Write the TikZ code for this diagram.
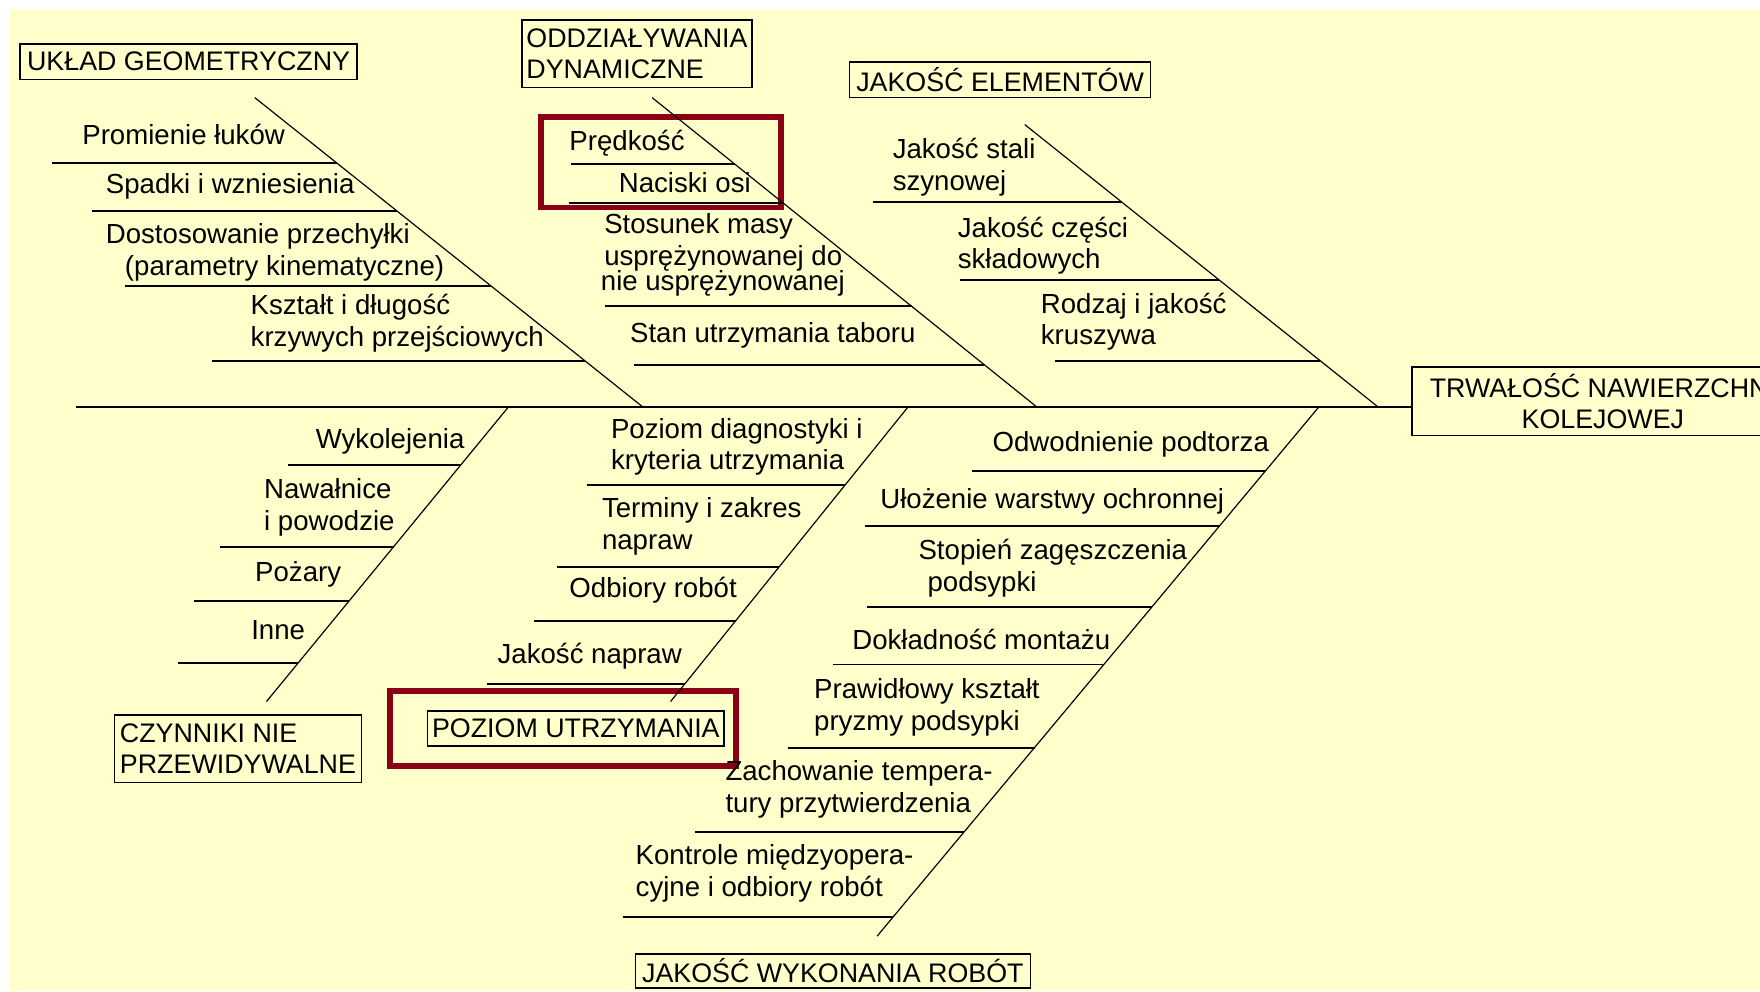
\documentclass[tikz,border=0pt]{standalone}
\usepackage{fontspec}
\setmainfont{Liberation Sans}
\definecolor{tlo}{HTML}{FFFFCC}
\definecolor{ciemnoczerwony}{RGB}{140,0,20}
\begin{document}
\begin{tikzpicture}[x=0.02cm,y=-0.02cm]
	% Style (DO ZMIANY)
	\tikzstyle{grzbiet}=[-,line width=1pt]
	\tikzstyle{os}=[-,line width=0.6pt]
	\tikzstyle{zebro}=[-,line width=1pt]
	\tikzstyle{kategoria}=[draw,line width=0.8pt,inner sep=0pt,align=left,font=\fontsize{13.6}{16}\selectfont]
	\tikzstyle{etykieta}=[anchor=west,inner sep=0pt,align=left,font=\fontsize{14}{16}\selectfont]
	\tikzstyle{ramka}=[draw=ciemnoczerwony,line width=2.8pt]
	% Wymiary (DO ZMIANY)
	\def\px{0.02cm}
	\def\Grzbiet{362.5}
	\def\XA{227}\def\YA{87}\def\NachA{1.2545}
	\def\XB{581}\def\YB{87}\def\NachB{1.2436}
	\def\XC{913}\def\YC{111}\def\NachC{1.251}
	\def\XD{453}\def\YD{362.5}\def\NachD{-0.8213}
	\def\XE{809}\def\YE{362.5}\def\NachE{-0.806}
	\def\XF{1175}\def\YF{362.5}\def\NachF{-0.8347}
	% Tlo
	\useasboundingbox (0,0) rectangle (1568,883);
	\clip (0,0) rectangle (1568,883);
	\fill[white] (0,0) rectangle (1568,883);
	\fill[tlo] (9,9) rectangle (1568,883);
	% Ramki (wyroznienia)
	\draw[ramka] (482,104) rectangle (696,185);
	\draw[ramka] (347.5,615.5) rectangle (655.5,682.5);
	% Kategorie
	\node[kategoria,minimum width=300*\px,minimum height=32*\px] (K1) at (168,55) {UKŁAD GEOMETRYCZNY};
	\node[kategoria,minimum width=205*\px,minimum height=60*\px] (K2) at (567.5,48) {ODDZIAŁYWANIA\\DYNAMICZNE};
	\node[kategoria,minimum width=268*\px,minimum height=32*\px] (K3) at (891,71) {JAKOŚĆ ELEMENTÓW};
	\node[kategoria,minimum width=220*\px,minimum height=60*\px] (K4) at (212,667) {CZYNNIKI NIE\\PRZEWIDYWALNE};
	\node[kategoria,minimum width=264*\px,minimum height=31*\px] (K5) at (513,649) {POZIOM UTRZYMANIA};
	\node[kategoria,minimum width=352*\px,minimum height=30*\px] (K6) at (742,865) {JAKOŚĆ WYKONANIA ROBÓT};
	\node[kategoria,align=center,minimum width=340*\px,minimum height=61*\px] (H) at (1428,357.5) {TRWAŁOŚĆ NAWIERZCHNI\\KOLEJOWEJ};
	% Grzbiet i kosci
	\coordinate (S0) at (68,\Grzbiet);
	\coordinate (O1) at (\XA,\YA);
	\coordinate (G1) at ({\XA+(\Grzbiet-\YA)*\NachA},\Grzbiet);
	\coordinate (O2) at (\XB,\YB);
	\coordinate (G2) at ({\XB+(\Grzbiet-\YB)*\NachB},\Grzbiet);
	\coordinate (O3) at (\XC,\YC);
	\coordinate (G3) at ({\XC+(\Grzbiet-\YC)*\NachC},\Grzbiet);
	\coordinate (O4) at ({\XD+(625-\YD)*\NachD},625);
	\coordinate (G4) at (\XD,\YD);
	\coordinate (O5) at ({\XE+(625-\YE)*\NachE},625);
	\coordinate (G5) at (\XE,\YE);
	\coordinate (O6) at ({\XF+(834-\YF)*\NachF},834);
	\coordinate (G6) at (\XF,\YF);
	% Etykiety - UKLAD GEOMETRYCZNY
	\node[etykieta] (E1a) at (73,120) {Promienie łuków};
	\node[etykieta] (E1b) at (94,166) {Spadki i wzniesienia};
	\node[etykieta] (E1c) at (94,225) {Dostosowanie przechyłki\\\hspace*{0.34cm}(parametry kinematyczne)};
	\node[etykieta] (E1d) at (223,288) {Kształt i długość\\krzywych przejściowych};
	\coordinate (Z1a) at (46,145.5);  \coordinate (W1a) at ({\XA+(145.5-\YA)*\NachA},145.5);
	\coordinate (Z1b) at (82,188);    \coordinate (W1b) at ({\XA+(188-\YA)*\NachA},188);
	\coordinate (Z1c) at (111,255);   \coordinate (W1c) at ({\XA+(255-\YA)*\NachA},255);
	\coordinate (Z1d) at (189,321.5); \coordinate (W1d) at ({\XA+(321.5-\YA)*\NachA},321.5);
	% Etykiety - ODDZIALYWANIA DYNAMICZNE
	\node[etykieta] (E2a) at (507,128) {Prędkość};
	\node[etykieta] (E2b) at (551,163) {Naciski osi};
	\node[etykieta] (E2c) at (535,227) {\hspace*{0.06cm}Stosunek masy\\\hspace*{0.06cm}usprężynowanej do\\[-3.4pt]nie usprężynowanej};
	\node[etykieta] (E2d) at (561,298.5) {Stan utrzymania taboru};
	\coordinate (Z2a) at (509,146.5); \coordinate (W2a) at ({\XB+(146.5-\YB)*\NachB},146.5);
	\coordinate (Z2b) at (507,181);   \coordinate (W2b) at ({\XB+(181-\YB)*\NachB},181);
	\coordinate (Z2c) at (539,273);   \coordinate (W2c) at ({\XB+(273-\YB)*\NachB},273);
	\coordinate (Z2d) at (565,325);   \coordinate (W2d) at ({\XB+(325-\YB)*\NachB},325);
	% Etykiety - JAKOSC ELEMENTOW
	\node[etykieta] (E3a) at (795,149) {Jakość stali\\szynowej};
	\node[etykieta] (E3b) at (853,219) {Jakość części\\składowych};
	\node[etykieta] (E3c) at (927,286.5) {Rodzaj i jakość\\kruszywa};
	\coordinate (Z3a) at (778,180);   \coordinate (W3a) at ({\XC+(180-\YC)*\NachC},180);
	\coordinate (Z3b) at (855,249.5); \coordinate (W3b) at ({\XC+(249.5-\YC)*\NachC},249.5);
	\coordinate (Z3c) at (940,321.5); \coordinate (W3c) at ({\XC+(321.5-\YC)*\NachC},321.5);
	% Etykiety - CZYNNIKI NIE PRZEWIDYWALNE
	\node[etykieta] (E4a) at (281,393.5) {Wykolejenia};
	\node[etykieta] (E4b) at (235,452) {Nawałnice\\i powodzie};
	\node[etykieta] (E4c) at (227,512) {Pożary};
	\node[etykieta] (E4d) at (223.5,561) {Inne};
	\coordinate (Z4a) at (257,414); \coordinate (W4a) at ({\XD+(414-\YD)*\NachD},414);
	\coordinate (Z4b) at (196,487); \coordinate (W4b) at ({\XD+(487-\YD)*\NachD},487);
	\coordinate (Z4c) at (173,535); \coordinate (W4c) at ({\XD+(535-\YD)*\NachD},535);
	\coordinate (Z4d) at (159,591); \coordinate (W4d) at ({\XD+(591-\YD)*\NachD},591);
	% Etykiety - POZIOM UTRZYMANIA
	\node[etykieta] (E5a) at (544,398) {Poziom diagnostyki i\\kryteria utrzymania};
	\node[etykieta] (E5b) at (536,469) {Terminy i zakres\\napraw};
	\node[etykieta] (E5c) at (507,526) {Odbiory robót};
	\node[etykieta] (E5d) at (443,585) {Jakość napraw};
	\coordinate (Z5a) at (523,432); \coordinate (W5a) at ({\XE+(432-\YE)*\NachE},432);
	\coordinate (Z5b) at (496,505); \coordinate (W5b) at ({\XE+(505-\YE)*\NachE},505);
	\coordinate (Z5c) at (476,553); \coordinate (W5c) at ({\XE+(553-\YE)*\NachE},553);
	\coordinate (Z5d) at (434,609); \coordinate (W5d) at ({\XE+(609-\YE)*\NachE},609);
	% Etykiety - JAKOSC WYKONANIA ROBOT
	\node[etykieta] (E6a) at (884,396) {Odwodnienie podtorza};
	\node[etykieta] (E6b) at (784,447) {Ułożenie warstwy ochronnej};
	\node[etykieta] (E6c) at (818,506) {Stopień zagęszczenia\\\hspace*{0.16cm}podsypki};
	\node[etykieta] (E6d) at (759,570) {Dokładność montażu};
	\node[etykieta] (E6e) at (725,630) {Prawidłowy kształt\\pryzmy podsypki};
	\node[etykieta] (E6f) at (646,703) {Zachowanie tempera-\\tury przytwierdzenia};
	\node[etykieta] (E6g) at (566,778) {Kontrole międzyopera-\\cyjne i odbiory robót};
	\coordinate (Z6a) at (866,420);   \coordinate (W6a) at ({\XF+(420-\YF)*\NachF},420);
	\coordinate (Z6b) at (771,468.5); \coordinate (W6b) at ({\XF+(468.5-\YF)*\NachF},468.5);
	\coordinate (Z6c) at (772,541);   \coordinate (W6c) at ({\XF+(541-\YF)*\NachF},541);
	\coordinate (Z6d) at (742,592);   \coordinate (W6d) at ({\XF+(592-\YF)*\NachF},592);
	\coordinate (Z6e) at (702,666);   \coordinate (W6e) at ({\XF+(666-\YF)*\NachF},666);
	\coordinate (Z6f) at (619,741);   \coordinate (W6f) at ({\XF+(741-\YF)*\NachF},741);
	\coordinate (Z6g) at (555,817);   \coordinate (W6g) at ({\XF+(817-\YF)*\NachF},817);
	% Linie (DO ZMIANY : Style)
	\draw[grzbiet] (S0)--(S0 -| H.west);
	\draw[os] (O1)--(G1);
	\draw[os] (O2)--(G2);
	\draw[os] (O3)--(G3);
	\draw[os] (O4)--(G4);
	\draw[os] (O5)--(G5);
	\draw[os] (O6)--(G6);
	\draw[zebro] (Z1a)--(W1a);
	\draw[zebro] (Z1b)--(W1b);
	\draw[zebro] (Z1c)--(W1c);
	\draw[zebro] (Z1d)--(W1d);
	\draw[zebro] (Z2a)--(W2a);
	\draw[zebro] (Z2b)--(W2b);
	\draw[zebro] (Z2c)--(W2c);
	\draw[zebro] (Z2d)--(W2d);
	\draw[zebro] (Z3a)--(W3a);
	\draw[zebro] (Z3b)--(W3b);
	\draw[zebro] (Z3c)--(W3c);
	\draw[zebro] (Z4a)--(W4a);
	\draw[zebro] (Z4b)--(W4b);
	\draw[zebro] (Z4c)--(W4c);
	\draw[zebro] (Z4d)--(W4d);
	\draw[zebro] (Z5a)--(W5a);
	\draw[zebro] (Z5b)--(W5b);
	\draw[zebro] (Z5c)--(W5c);
	\draw[zebro] (Z5d)--(W5d);
	\draw[zebro] (Z6a)--(W6a);
	\draw[zebro] (Z6b)--(W6b);
	\draw[zebro] (Z6c)--(W6c);
	\draw[zebro] (Z6d)--(W6d);
	\draw[zebro] (Z6e)--(W6e);
	\draw[zebro] (Z6f)--(W6f);
	\draw[zebro] (Z6g)--(W6g);
\end{tikzpicture}
\end{document}
